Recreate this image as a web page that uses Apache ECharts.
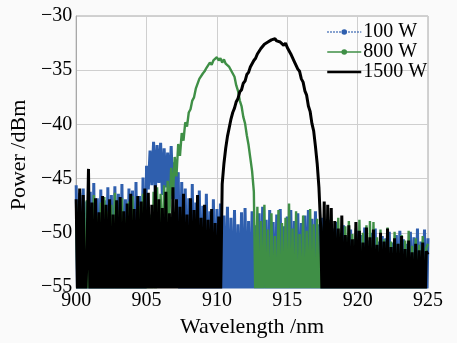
<!DOCTYPE html>
<html>
<head>
<meta charset="utf-8">
<script src="https://cdn.jsdelivr.net/npm/echarts@6/dist/echarts.min.js"></script>
<style>
html,body{margin:0;padding:0;background:#fafafa;}
#c{width:457px;height:343px;}
</style>
</head>
<body>
<div id="c"></div>
<script>
// wavelength grid: 900 nm start, 0.125 nm step, 201 samples
const waveStart = 900;
const waveStep = 0.125;
const xTicks = [900, 905, 910, 915, 920, 925];
const yTicks = [-55, -50, -45, -40, -35, -30];
const seriesNames = ['100 W', '800 W', '1500 W'];

const p100 = [
-45.6,-58.4,-46.3,-59.0,-45.9,-57.7,-47.1,-58.8,
-46.2,-59.3,-45.4,-58.1,-46.8,-57.9,-46.0,-59.5,
-47.0,-58.3,-45.8,-59.1,-46.5,-57.6,-45.7,-58.9,
-46.4,-59.6,-45.5,-58.0,-46.9,-57.8,-45.9,-58.7,
-46.1,-59.2,-45.3,-58.5,-46.6,-57.5,-44.9,-58.2,
-43.8,-46.0,-42.4,-45.6,-41.6,-46.3,-41.9,-45.4,
-41.7,-46.5,-42.2,-45.8,-42.6,-46.1,-42.0,-46.9,
-43.5,-47.8,-44.4,-58.0,-45.3,-59.2,-45.9,-57.6,
-46.8,-58.9,-45.5,-59.4,-47.2,-57.9,-46.1,-58.6,
-47.5,-59.0,-46.4,-57.8,-48.0,-58.5,-46.9,-59.3,
-47.8,-58.1,-47.3,-59.6,-48.4,-57.7,-47.6,-58.8,
-48.6,-59.1,-47.9,-58.3,-49.2,-57.9,-48.1,-59.4,
-47.7,-58.6,-48.9,-59.0,-48.0,-57.8,-49.3,-58.4,
-48.2,-59.5,-47.6,-58.0,-48.8,-59.2,-47.9,-57.7,
-49.0,-58.8,-48.3,-59.6,-47.8,-58.1,-49.4,-59.0,
-48.5,-57.9,-47.9,-58.7,-48.9,-59.3,-48.2,-58.0,
-49.1,-59.4,-48.4,-57.6,-47.9,-58.9,-48.7,-59.1,
-48.0,-58.3,-49.2,-59.7,-48.6,-57.8,-49.4,-58.6,
-48.8,-59.2,-49.6,-57.9,-49.0,-58.4,-50.1,-59.5,
-49.3,-58.0,-50.4,-59.1,-49.7,-57.7,-50.6,-58.8,
-49.8,-59.6,-50.2,-58.2,-49.5,-59.0,-50.7,-57.9,
-50.0,-58.5,-49.6,-59.3,-50.8,-57.6,-50.3,-58.9,
-50.5,-59.8,-49.9,-58.1,-50.9,-59.2,-50.2,-57.8,
-49.8,-58.7,-50.6,-59.4,-51.0,-57.9,-49.9,-58.6,
-50.4,-59.1,-49.6,-58.0,-50.8,-59.5,-49.7,-58.3,
-50.5
];

const p800 = [
-47.3,-58.0,-46.9,-59.2,-48.1,-57.6,-47.0,-58.7,
-47.8,-59.4,-46.5,-58.2,-48.4,-57.9,-47.2,-59.0,
-46.7,-58.4,-48.0,-59.6,-47.4,-57.7,-46.3,-58.9,
-47.9,-59.1,-46.8,-57.8,-48.6,-58.6,-47.1,-59.3,
-46.6,-58.1,-48.9,-59.5,-47.5,-57.9,-46.4,-58.8,
-47.7,-59.2,-48.3,-57.6,-46.2,-58.5,-45.8,-53.0,
-46.4,-52.0,-45.6,-51.0,-45.2,-48.5,-44.0,-46.6,
-43.0,-44.8,-41.8,-42.9,-40.8,-41.5,-39.8,-40.2,
-38.9,-38.6,-37.8,-37.5,-36.7,-36.6,-35.8,-35.9,
-35.3,-35.1,-34.8,-34.7,-34.3,-34.5,-34.1,-34.2,
-33.8,-34.1,-33.9,-34.3,-34.0,-34.4,-34.3,-34.7,
-34.8,-35.3,-35.6,-36.4,-36.9,-37.8,-38.3,-39.3,
-39.9,-41.0,-41.9,-43.1,-44.3,-46.2,-58.0,-47.6,
-59.1,-48.9,-57.8,-47.4,-58.6,-49.7,-59.3,-48.2,
-57.9,-50.3,-58.8,-47.9,-59.5,-49.1,-58.0,-48.6,
-59.2,-47.3,-57.7,-49.6,-58.9,-48.0,-59.6,-50.1,
-58.3,-48.4,-59.0,-49.8,-57.6,-47.8,-58.7,-49.2,
-59.4,-48.7,-58.1,-50.2,-59.2,-48.8,-57.9,-49.5,
-58.6,-48.9,-59.7,-49.9,-58.0,-48.6,-59.1,-50.3,
-57.8,-49.4,-58.9,-48.9,-59.5,-50.1,-58.2,-49.6,
-59.0,-48.8,-57.7,-50.0,-58.7,-49.3,-59.4,-48.9,
-58.1,-49.0,-59.6,-50.4,-57.9,-49.7,-58.8,-50.6,
-59.2,-49.5,-58.0,-50.8,-59.3,-49.9,-57.8,-51.0,
-58.4,-50.2,-59.1,-50.7,-58.0,-49.8,-59.5,-51.2,
-58.6,-50.5,-57.9,-51.1,-59.0,-50.3,-58.3,-51.4,
-51.0
];

const p1500 = [
-46.9,-58.2,-45.9,-59.1,-46.5,-57.8,-53.0,-44.1,
-58.6,-47.2,-59.4,-46.8,-57.9,-48.1,-58.8,-46.6,
-59.2,-47.4,-58.1,-46.9,-60.0,-48.3,-57.6,-47.0,
-58.9,-46.7,-59.5,-48.0,-57.7,-47.3,-58.4,-46.4,
-59.1,-47.8,-58.3,-46.6,-59.7,-47.1,-57.9,-45.9,
-58.6,-46.3,-59.2,-47.4,-57.5,-45.6,-58.8,-46.9,
-59.3,-47.7,-58.0,-46.2,-59.6,-48.2,-57.8,-45.8,
-58.5,-46.9,-59.0,-47.6,-57.6,-46.4,-58.9,-48.3,
-59.4,-46.8,-58.2,-47.9,-57.7,-46.5,-59.1,-48.6,
-58.3,-47.4,-59.6,-48.8,-57.9,-47.8,-58.6,-49.1,
-59.0,-48.5,-57.0,-45.5,-43.6,-42.2,-41.1,-40.3,
-39.5,-38.9,-38.5,-37.9,-37.6,-37.0,-36.8,-36.2,
-36.0,-35.4,-35.2,-34.7,-34.6,-34.1,-33.9,-33.5,
-33.4,-33.0,-32.9,-32.6,-32.6,-32.4,-32.5,-32.2,
-32.3,-32.1,-32.3,-32.2,-32.4,-32.4,-32.7,-32.5,
-32.9,-33.0,-33.5,-33.6,-34.2,-34.3,-34.9,-35.1,
-35.8,-36.1,-36.9,-37.3,-38.3,-38.8,-39.9,-40.6,
-42.0,-43.6,-45.8,-49.5,-58.0,-47.1,-59.0,-47.4,
-58.2,-47.7,-59.3,-48.9,-57.6,-49.6,-58.8,-48.4,
-59.5,-50.2,-57.9,-49.3,-58.7,-50.6,-59.8,-49.0,
-58.1,-49.8,-59.2,-50.9,-57.7,-49.5,-58.9,-50.4,
-59.6,-49.7,-58.0,-51.1,-59.1,-50.0,-57.8,-50.8,
-58.6,-49.6,-59.9,-51.3,-57.9,-50.5,-58.7,-51.0,
-59.3,-50.3,-58.1,-51.5,-59.6,-50.7,-57.8,-51.8,
-58.5,-51.0,-59.4,-51.6,-58.0,-50.9,-59.7,-51.7,
-52.0
];

function pairs(arr) {
  return arr.map((v, i) => [waveStart + i * waveStep, v]);
}
const minus = v => String(v).replace('-', '\u2212');
const serif = 'Liberation Serif';
const blue = '#2f5fae', green = '#3f8f46', black = '#000';

const chart = echarts.init(document.getElementById('c'), null, {renderer: 'canvas'});
chart.setOption({
  animation: false,
  backgroundColor: '#fafafa',
  textStyle: {fontFamily: serif, color: '#000'},
  grid: {left: 70, right: 29, top: 16, bottom: 45, show: true, borderColor: '#a8a8a8', borderWidth: 1, backgroundColor: '#fcfcfc'},
  legend: {
    data: [
      {name: seriesNames[0], lineStyle: {type: 'dotted', width: 1.5}},
      {name: seriesNames[1], lineStyle: {width: 1.5}},
      {name: seriesNames[2], itemStyle: {opacity: 0}, lineStyle: {width: 2.5}}
    ],
    orient: 'vertical',
    left: 326, top: 22, padding: 0,
    itemWidth: 34, itemHeight: 7, itemGap: 0,
    textStyle: {fontFamily: serif, fontSize: 20, color: '#000', lineHeight: 20, padding: [0, 0, 0, -3]}
  },
  xAxis: {
    type: 'value', min: xTicks[0], max: xTicks[xTicks.length - 1], interval: 5,
    name: 'Wavelength /nm', nameLocation: 'middle', nameGap: 26,
    nameTextStyle: {fontFamily: serif, fontSize: 22, color: '#000'},
    axisLine: {show: true, lineStyle: {color: '#a8a8a8'}},
    axisTick: {show: false},
    axisLabel: {fontFamily: serif, fontSize: 20, color: '#000', margin: 4, formatter: minus},
    splitLine: {show: true, lineStyle: {color: '#cfcfcf'}}
  },
  yAxis: {
    type: 'value', min: yTicks[0], max: yTicks[yTicks.length - 1], interval: 5,
    name: 'Power /dBm', nameLocation: 'middle', nameGap: 34,
    nameTextStyle: {fontFamily: serif, fontSize: 22, color: '#000', padding: [0, 7, 0, 0]},
    axisLine: {show: true, lineStyle: {color: '#a8a8a8'}},
    axisTick: {show: false},
    axisLabel: {fontFamily: serif, fontSize: 20, color: '#000', margin: 4, formatter: minus},
    splitLine: {show: true, lineStyle: {color: '#cfcfcf'}}
  },
  series: [
    {name: seriesNames[0], type: 'line', data: pairs(p100), showSymbol: false, symbol: 'circle', symbolSize: 5,
     itemStyle: {color: blue}, lineStyle: {color: blue, width: 3, join: 'bevel'}, z: 2},
    {name: seriesNames[1], type: 'line', data: pairs(p800), showSymbol: false, symbol: 'circle', symbolSize: 5,
     itemStyle: {color: green}, lineStyle: {color: green, width: 2.4, join: 'bevel'}, z: 3},
    {name: seriesNames[2], type: 'line', data: pairs(p1500), showSymbol: false, symbol: 'none',
     itemStyle: {color: black}, lineStyle: {color: black, width: 3, join: 'bevel'}, z: 4}
  ]
});
</script>
</body>
</html>
